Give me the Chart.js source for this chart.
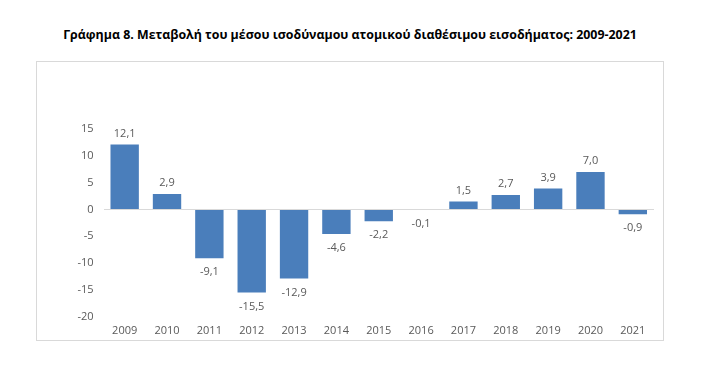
<!DOCTYPE html>
<html lang="el">
<head>
    <meta charset="UTF-8" />
    <title>Γράφημα 8</title>
    <style>
        body {
            margin: 0;
            background: #fff;
            font-family: "Open Sans", sans-serif;
        }
        #title {
            position: absolute;
            left: 0;
            width: 700px;
            top: 26px;
            text-align: center;
            font-weight: bold;
            font-size: 12.4px;
            color: #000;
        }
        #box {
            position: absolute;
            left: 36px;
            top: 61px;
            width: 628px;
            height: 280px;
            box-sizing: border-box;
            border: 1px solid #d9d9d9;
        }
    </style>
    <script src="https://cdn.jsdelivr.net/npm/chart.js"></script>
</head>
<body>
<div id="title">Γράφημα 8. Μεταβολή του μέσου ισοδύναμου ατομικού διαθέσιμου εισοδήματος: 2009-2021</div>
<div id="box">
    <canvas id="incomeChart" width="626" height="278"></canvas>
</div>

<script>
  const years = ["2009", "2010", "2011", "2012", "2013", "2014", "2015", "2016", "2017", "2018", "2019", "2020", "2021"];
  const changeValues = [12.1, 2.9, -9.1, -15.5, -12.9, -4.6, -2.2, -0.1, 1.5, 2.7, 3.9, 7.0, -0.9];
  const yMin = -20;
  const yMax = 15;
  const yStep = 5;

  function formatComma(v) {
    return v.toFixed(1).replace(".", ",");
  }

  const textColor = "#595959";
  const fontSpec = { family: "'Open Sans', sans-serif", size: 11 };

  // value labels above positive bars, below negative ones
  const barLabels = {
    id: "barLabels",
    afterDatasetsDraw(chart) {
      const ctx = chart.ctx;
      const meta = chart.getDatasetMeta(0);
      ctx.save();
      ctx.font = "11px 'Open Sans', sans-serif";
      ctx.fillStyle = textColor;
      ctx.textAlign = "center";
      ctx.textBaseline = "middle";
      meta.data.forEach((bar, i) => {
        const v = changeValues[i];
        const y = v >= 0 ? bar.y - 11 : bar.y + 14;
        ctx.fillText(formatComma(v), bar.x, y);
      });
      ctx.restore();
    },
  };

  new Chart(document.getElementById("incomeChart"), {
    type: "bar",
    data: {
      labels: years,
      datasets: [
        {
          data: changeValues,
          backgroundColor: "#4a7ebb",
          barPercentage: 0.67,
          categoryPercentage: 1,
        },
      ],
    },
    options: {
      responsive: false,
      animation: false,
      layout: {
        padding: { left: 0, right: 9, top: 67, bottom: 0 },
      },
      scales: {
        y: {
          min: yMin,
          max: yMax,
          ticks: {
            stepSize: yStep,
            color: textColor,
            font: fontSpec,
            padding: 10,
          },
          border: { display: false },
          grid: {
            drawTicks: false,
            color: (c) => (c.tick && c.tick.value === 0 ? "#d9d9d9" : "transparent"),
          },
          afterFit(scale) {
            scale.width = 66.5;
          },
        },
        x: {
          ticks: {
            color: textColor,
            font: fontSpec,
            padding: 8,
          },
          border: { display: false },
          grid: { display: false, drawTicks: false },
          afterFit(scale) {
            scale.height = 23.3;
          },
        },
      },
      plugins: {
        legend: { display: false },
        tooltip: { enabled: false },
      },
    },
    plugins: [barLabels],
  });
</script>
</body>
</html>
